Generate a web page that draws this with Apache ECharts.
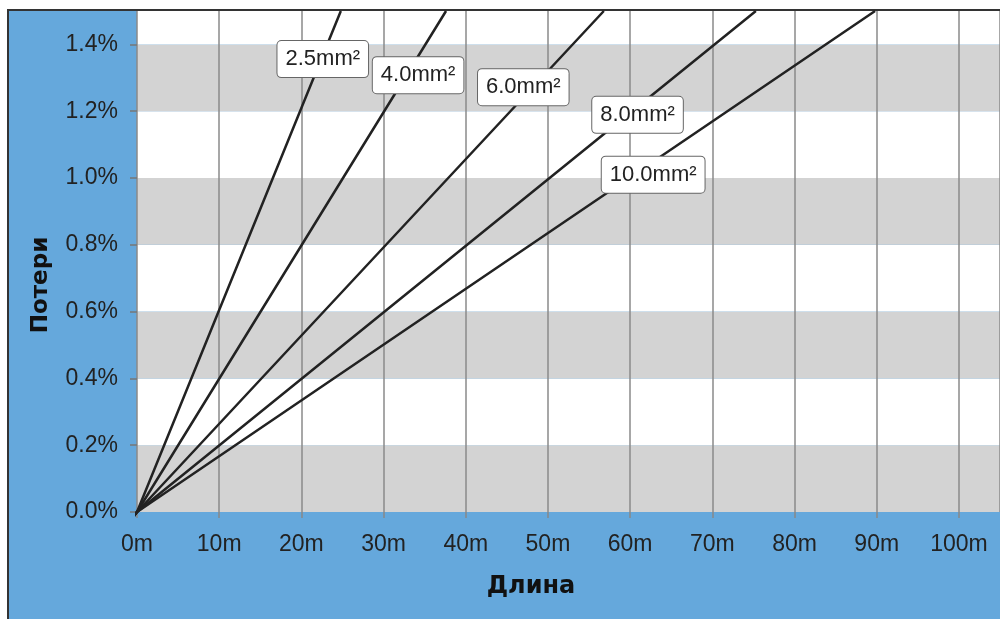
<!DOCTYPE html>
<html>
<head>
<meta charset="utf-8">
<script src="https://cdn.jsdelivr.net/npm/echarts@6/dist/echarts.min.js"></script>
<style>
  html, body { margin: 0; padding: 0; background: #fff; }
  #main { width: 1000px; height: 619px; }
</style>
</head>
<body>
<div id="main"></div>
<script>
var sections = ['2.5mm²', '4.0mm²', '6.0mm²', '8.0mm²', '10.0mm²'];
// length (m) where each line reaches the top of the chart (1.5 %)
var endLength = [24.8, 37.6, 56.8, 75.3, 89.8];
var endLoss = [1.5, 1.5, 1.5, 1.5, 1.5];
// where the name tag sits on each line (loss, %)
var tagLoss = [1.356, 1.308, 1.272, 1.189, 1.01];
var tagLength = [22.6, 34.2, 47.0, 60.9, 62.8];
var xTicks = ['0m', '10m', '20m', '30m', '40m', '50m', '60m', '70m', '80m', '90m', '100m'];

var MyChart = echarts.init(document.getElementById('main'));

var series = sections.map(function (name, i) {
	return {
		name: name,
		type: 'line',
		symbol: 'none',
		clip: false,
		lineStyle: { color: '#222', width: 2.5 },
		data: [[-1.0, -0.03], [0, 0], [endLength[i], endLoss[i]]],
		markPoint: {
			symbol: 'rect',
			symbolSize: 1,
			z: 20,
			itemStyle: { color: 'rgba(0,0,0,0)' },
			label: {
				show: true,
				position: 'inside',
				formatter: name,
				color: '#222',
				fontFamily: 'Liberation Sans',
				fontSize: 22,
				backgroundColor: '#fff',
				borderColor: '#666',
				borderWidth: 1,
				borderRadius: 4,
				padding: [8, 8, 6, 8]
			},
			data: [{ coord: [tagLength[i], tagLoss[i]] }]
		}
	};
});

option = {
	backgroundColor: '#fff',
	animation: false,
	graphic: [{
		type: 'rect',
		z: -10,
		shape: { x: 8, y: 10, width: 1000, height: 620 },
		style: { fill: '#65a8dc', stroke: '#333', lineWidth: 2 }
	}, {
		type: 'text',
		x: 531,
		y: 587,
		z: 10,
		style: {
			text: 'Длина',
			fill: '#111',
			font: 'bold 24px "DejaVu Sans"',
			textAlign: 'center',
			textVerticalAlign: 'middle'
		}
	}, {
		type: 'text',
		x: 41,
		y: 285,
		rotation: Math.PI / 2,
		z: 10,
		style: {
			text: 'Потери',
			fill: '#111',
			font: 'bold 23px "DejaVu Sans"',
			textAlign: 'center',
			textVerticalAlign: 'middle'
		}
	}],
	grid: {
		left: 137,
		top: 11,
		right: -8,
		bottom: 107
	},
	xAxis: {
		type: 'value',
		min: 0,
		max: 105,
		interval: 10,
		axisLine: { show: false },
		axisTick: { show: true, length: 6, lineStyle: { color: '#888', width: 1.5 } },
		axisLabel: {
			margin: 21,
			color: '#222',
			fontFamily: 'Liberation Sans',
			fontSize: 23,
			showMaxLabel: false,
			formatter: function (v) { return xTicks[v / 10]; }
		},
		splitLine: { show: true, lineStyle: { color: '#8a8a8a', width: 1.5 } }
	},
	yAxis: {
		type: 'value',
		min: 0,
		max: 1.5,
		interval: 0.2,
		axisLine: { show: false },
		axisTick: { show: true, length: 7, lineStyle: { color: '#777', width: 1.5 } },
		axisLabel: {
			margin: 19,
			color: '#222',
			fontFamily: 'Liberation Sans',
			fontSize: 23,
			showMaxLabel: false,
			formatter: function (v) { return v.toFixed(1) + '%'; }
		},
		splitLine: { show: false },
		splitArea: { show: true, areaStyle: { color: ['#d3d3d3', '#ffffff'] } }
	},
	series: series
};

MyChart.setOption(option);
</script>
</body>
</html>
